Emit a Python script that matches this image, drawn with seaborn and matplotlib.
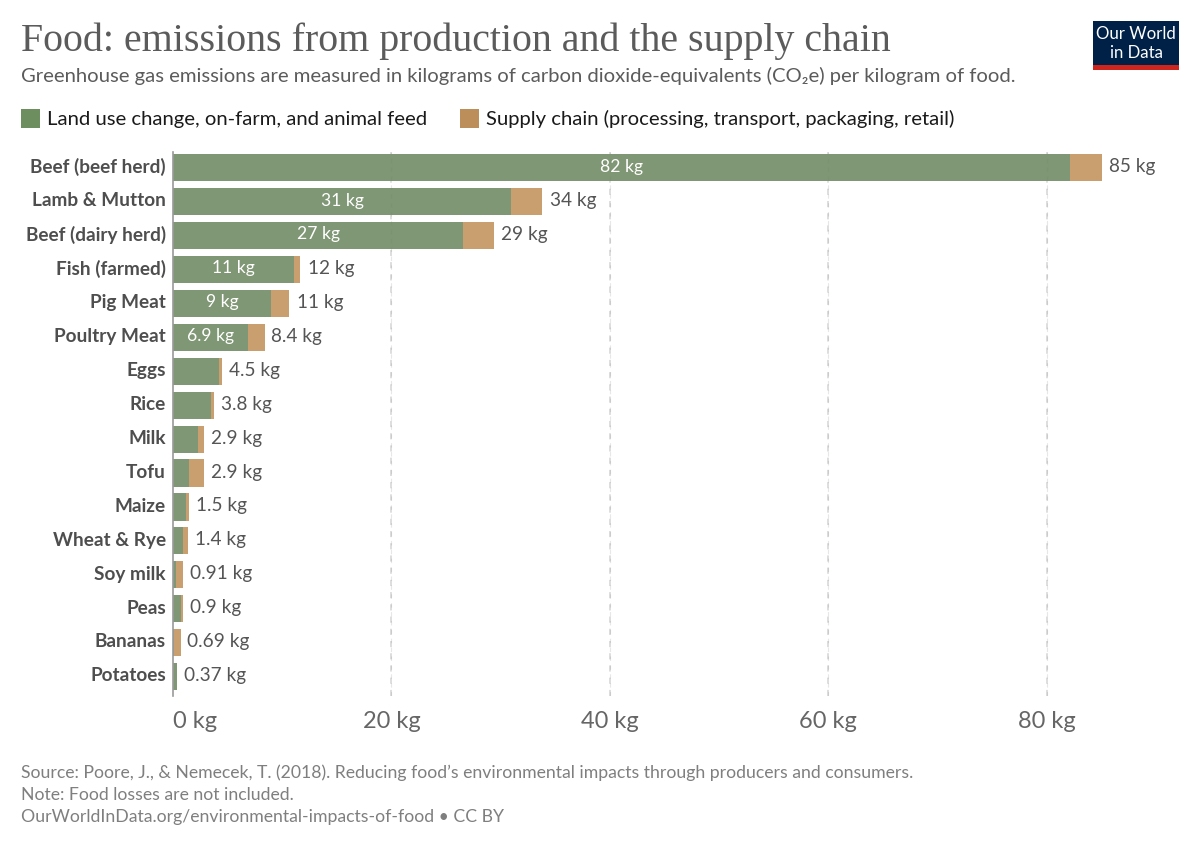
import pandas as pd
import seaborn as sns
import matplotlib.pyplot as plt
from matplotlib.patches import Rectangle
from matplotlib.transforms import ScaledTranslation

foods = ['Beef (beef herd)', 'Lamb & Mutton', 'Beef (dairy herd)', 'Fish (farmed)', 'Pig Meat',
         'Poultry Meat', 'Eggs', 'Rice', 'Milk', 'Tofu', 'Maize', 'Wheat & Rye', 'Soy milk',
         'Peas', 'Bananas', 'Potatoes']
land = [82.1, 30.95, 26.6, 11.1, 9.0, 6.9, 4.2, 3.5, 2.3, 1.45, 1.2, 0.92, 0.27, 0.73, 0.12, 0.33]
total = [85.1, 33.8, 29.35, 11.6, 10.6, 8.4, 4.5, 3.8, 2.85, 2.85, 1.5, 1.4, 0.88, 0.88, 0.69, 0.37]
inner_labels = ['82 kg', '31 kg', '27 kg', '11 kg', '9 kg', '6.9 kg']
total_labels = ['85 kg', '34 kg', '29 kg', '12 kg', '11 kg', '8.4 kg', '4.5 kg', '3.8 kg', '2.9 kg',
                '2.9 kg', '1.5 kg', '1.4 kg', '0.91 kg', '0.9 kg', '0.69 kg', '0.37 kg']
label_ends = [85.1, 33.9, 29.4, 11.7, 10.7, 8.4, 4.5, 3.8, 2.9, 2.9, 1.5, 1.4, 0.91, 0.9, 0.69, 0.37]
x_ticks = [0, 20, 40, 60, 80]
x_tick_labels = ['0 kg', '20 kg', '40 kg', '60 kg', '80 kg']

W, H = 1200, 847
GREEN = '#7F9774'
TAN = '#C99F70'

sns.set_theme(style='white')
plt.rcParams['font.family'] = ['Lato', 'DejaVu Sans']

data = pd.DataFrame({'food': foods, 'land': land, 'total': total})

fig = plt.figure(figsize=(12, 8.47), dpi=100)
ax = fig.add_axes([173 / W, 1 - 696 / H, (1180 - 173) / W, (696 - 152) / H])

# total goes first, the green part is drawn over it
sns.barplot(data=data, y='food', x='total', color=TAN, saturation=1, width=0.8, linewidth=0, ax=ax, zorder=2)
sns.barplot(data=data, y='food', x='land', color=GREEN, saturation=1, width=0.8, linewidth=0, ax=ax, zorder=3)

ax.set_xlim(0, (1180 - 173) / 10.92)
ax.set_ylim(15.57, -0.46)
ax.set_xlabel('')
ax.set_ylabel('')

for t in x_ticks[1:]:
    ax.axvline(t, color='#d4d4d4', lw=1.1, dashes=(4, 4), zorder=1)
    ax.axvline(t, color='#6f8567', lw=0.8, alpha=0.18, dashes=(4, 4), zorder=4)

sns.despine(ax=ax, top=True, right=True, bottom=True)
ax.spines['left'].set_color('#9a9a9a')
ax.spines['left'].set_linewidth(1.2)
ax.spines['left'].set_zorder(5)

ax.set_xticks(x_ticks)
ax.set_xticklabels(x_tick_labels, fontsize=17, color='#666666')
ax.get_xticklabels()[0].set_ha('left')
ax.tick_params(axis='x', length=0, pad=11)
ax.tick_params(axis='y', length=0, pad=5)
up = ScaledTranslation(0, 1.6 / 72, fig.dpi_scale_trans)
for lab in ax.get_yticklabels():
    lab.set_fontsize(13.7)
    lab.set_fontweight('bold')
    lab.set_color('#4e4e4e')
    lab.set_transform(lab.get_transform() + up)

for i, lab in enumerate(total_labels):
    ax.text(label_ends[i] + 0.62, i - 0.03, lab, va='center', ha='left', fontsize=13.7, color='#555555')
for i, lab in enumerate(inner_labels):
    ax.text(land[i] / 2, i - 0.03, lab, va='center', ha='center', fontsize=12.6, color='white', zorder=6)


def px_text(x, y, s, **kw):
    fig.text(x / W, 1 - y / H, s, **kw)


def px_rect(x0, y0, x1, y1, color):
    fig.add_artist(Rectangle((x0 / W, 1 - y1 / H), (x1 - x0) / W, (y1 - y0) / H,
                             transform=fig.transFigure, facecolor=color, edgecolor='none'))


px_text(21, 41.5, 'Food: emissions from production and the supply chain', family='Liberation Serif',
        fontsize=28.7, color='#5b5b5b', va='center')
px_text(21, 75.5, 'Greenhouse gas emissions are measured in kilograms of carbon dioxide-equivalents (CO₂e) per kilogram of food.',
        fontsize=14.6, color='#5b5b5b', va='center')

px_rect(21, 109, 40, 128, '#6D8E5F')
px_text(47, 119.3, 'Land use change, on-farm, and animal feed', fontsize=14.6, color='#1a1a1a', va='center')
px_rect(460, 109, 479, 128, '#BC8E5A')
px_text(485.5, 118.5, 'Supply chain (processing, transport, packaging, retail)', fontsize=14.6, color='#1a1a1a', va='center')

px_text(21, 772.5, 'Source: Poore, J., & Nemecek, T. (2018). Reducing food’s environmental impacts through producers and consumers.',
        fontsize=12.7, color='#7f7f7f', va='center')
px_text(21, 794.5, 'Note: Food losses are not included.', fontsize=12.7, color='#7f7f7f', va='center')
px_text(21, 816.5, 'OurWorldInData.org/environmental-impacts-of-food • CC BY', fontsize=12.7, color='#7f7f7f', va='center')

px_rect(1093, 21, 1179, 65, '#002147')
px_rect(1093, 65, 1179, 70, '#CE261E')
px_text(1136, 34, 'Our World', fontsize=12.1, color='white', ha='center', va='center')
px_text(1136, 53, 'in Data', fontsize=12.1, color='white', ha='center', va='center')

plt.savefig('out.png', dpi=100)
